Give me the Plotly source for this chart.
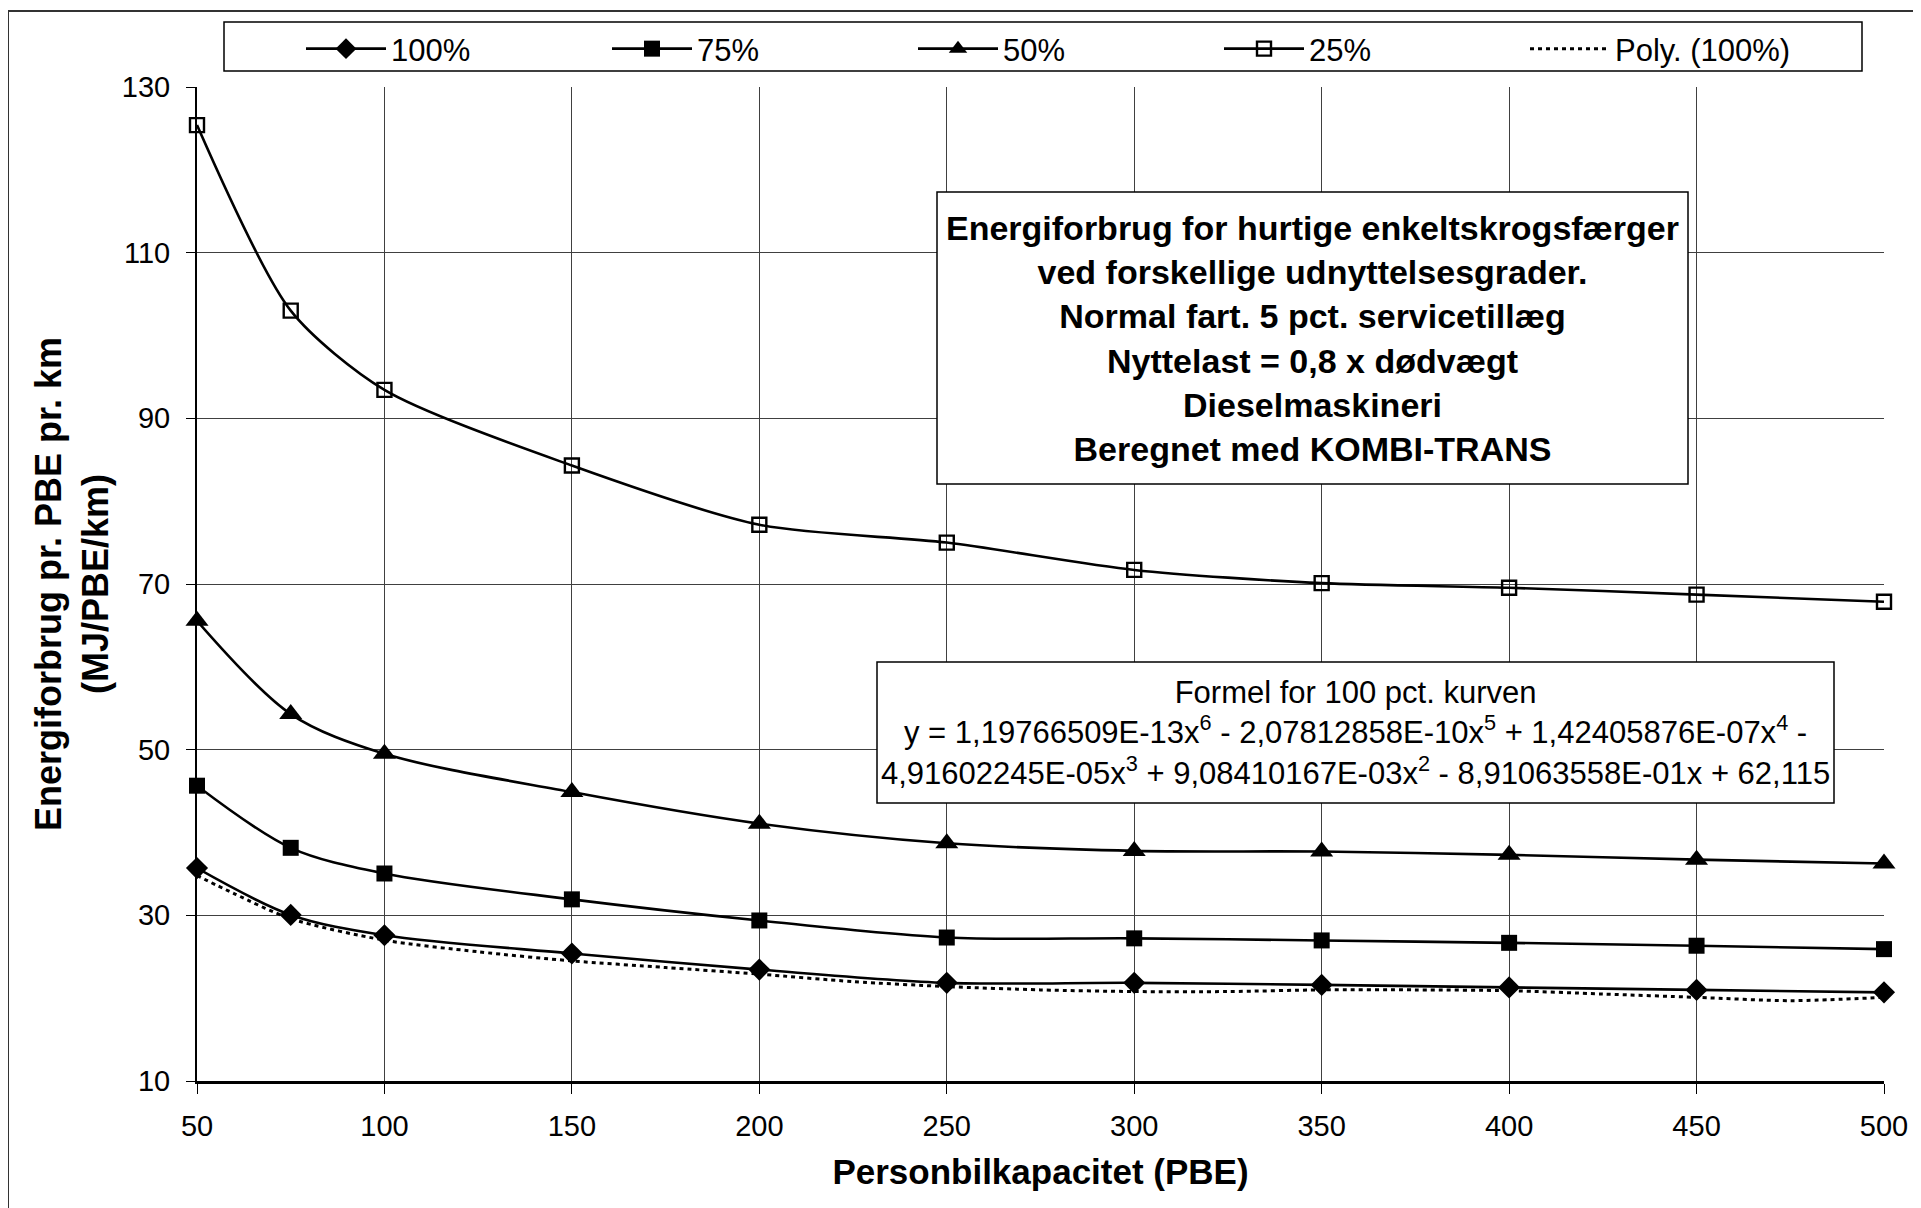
import plotly.graph_objects as go

# ---------------- data ----------------
x_pbe = [50, 75, 100, 150, 200, 250, 300, 350, 400, 450, 500]
y_100 = [35.7, 30.05, 27.6, 25.4, 23.45, 21.85, 21.85, 21.6, 21.3, 21.0, 20.7]
y_75 = [45.65, 38.15, 35.05, 31.93, 29.38, 27.32, 27.22, 26.97, 26.68, 26.33, 25.92]
y_50 = [65.55, 54.3, 49.5, 44.88, 41.07, 38.7, 37.78, 37.7, 37.3, 36.72, 36.25]
y_25 = [125.4, 103.0, 93.43, 84.3, 77.15, 75.0, 71.7, 70.1, 69.55, 68.72, 67.85]

poly_x = [50, 60, 75, 100, 125, 150, 175, 200, 225, 250, 275, 300, 325, 350,
          375, 400, 425, 450, 475, 500]
poly_y = [34.8, 32.6, 29.6, 27.0, 25.6, 24.5, 23.7, 22.9, 22.0, 21.4, 21.0,
          20.8, 20.8, 21.0, 21.0, 20.9, 20.5, 20.1, 19.7, 20.1]

series_names = ["100%", "75%", "50%", "25%"]
trend_name = "Poly. (100%)"
x_ticks = [50, 100, 150, 200, 250, 300, 350, 400, 450, 500]
y_ticks = [10, 30, 50, 70, 90, 110, 130]

x_title = "Personbilkapacitet (PBE)"
y_title = "Energiforbrug pr. PBE pr. km<br>(MJ/PBE/km)"
info_lines = [
    "Energiforbrug for hurtige enkeltskrogsfærger",
    "ved forskellige udnyttelsesgrader.",
    "Normal fart. 5 pct. servicetillæg",
    "Nyttelast = 0,8 x dødvægt",
    "Dieselmaskineri",
    "Beregnet med KOMBI-TRANS",
]
formula_lines = [
    "Formel for 100 pct. kurven",
    "y = 1,19766509E-13x<sup>6</sup> - 2,07812858E-10x<sup>5</sup> + 1,42405876E-07x<sup>4</sup> -",
    "4,91602245E-05x<sup>3</sup> + 9,08410167E-03x<sup>2</sup> - 8,91063558E-01x + 62,115",
]

# ---------------- layout geometry ----------------
# The page body has an 8px margin, so the figure is drawn 8px in from the
# window's top-left corner; page coordinates below are converted accordingly.
OFF = 8
W, H = 1921 - OFF, 1208 - OFF
PL, PR, PT, PB = 197 - OFF, 1884 - OFF, 87 - OFF, 1081 - OFF   # plot area (figure px)
FONT = "Liberation Sans, Arial, sans-serif"


def px_x(page_px):
    return (page_px - OFF - PL) / (PR - PL)


def px_y(page_px):
    return (PB - (page_px - OFF)) / (PB - PT)


fig = go.Figure()

styles = [
    dict(symbol="diamond", size=17, color="black"),
    dict(symbol="square", size=16, color="black"),
    dict(symbol="triangle-up", size=20, color="black"),
    dict(symbol="square-open", size=14, color="black", line=dict(width=2.4, color="black")),
]
smooth = [0.9, 0.9, 0.9, 0.75]
for name, ys, mk, sm in zip(series_names, [y_100, y_75, y_50, y_25], styles, smooth):
    fig.add_trace(go.Scatter(
        x=x_pbe, y=ys, name=name, mode="lines+markers", cliponaxis=False,
        line=dict(color="black", width=2.6, shape="spline", smoothing=sm),
        marker=mk,
    ))

fig.add_trace(go.Scatter(
    x=poly_x, y=poly_y, name=trend_name, mode="lines", cliponaxis=False,
    line=dict(color="black", width=3, dash="4px,4px", shape="spline", smoothing=0.8),
))

shapes = [
    # outer chart frame
    dict(type="rect", xref="paper", yref="paper",
         x0=px_x(8), x1=px_x(1940), y0=px_y(1230), y1=px_y(11),
         line=dict(color="#333333", width=2), fillcolor="rgba(0,0,0,0)", layer="above"),
    # legend frame
    dict(type="rect", xref="paper", yref="paper",
         x0=px_x(224), x1=px_x(1862), y0=px_y(71), y1=px_y(22),
         line=dict(color="black", width=1.5), fillcolor="white", layer="below"),
    # info box
    dict(type="rect", xref="paper", yref="paper",
         x0=px_x(937), x1=px_x(1688), y0=px_y(484), y1=px_y(192),
         line=dict(color="black", width=1.5), fillcolor="white", layer="above"),
    # formula box
    dict(type="rect", xref="paper", yref="paper",
         x0=px_x(877), x1=px_x(1834), y0=px_y(803), y1=px_y(662),
         line=dict(color="black", width=1.5), fillcolor="white", layer="above"),
]

annotations = [
    dict(xref="paper", yref="paper", x=px_x((937 + 1688) / 2), y=px_y((192 + 484) / 2),
         text="<br>".join(f"<b>{t}</b>" for t in info_lines), showarrow=False,
         align="center", xanchor="center", yanchor="middle",
         font=dict(family=FONT, size=34, color="black")),
    dict(xref="paper", yref="paper", x=px_x((877 + 1834) / 2), y=px_y((662 + 803) / 2),
         text="<br>".join(formula_lines), showarrow=False,
         align="center", xanchor="center", yanchor="middle",
         font=dict(family=FONT, size=31, color="black")),
]

fig.update_layout(
    width=W, height=H,
    margin=dict(l=PL, r=W - PR, t=PT, b=H - PB, autoexpand=False),
    paper_bgcolor="white", plot_bgcolor="white",
    font=dict(family=FONT, color="black"),
    showlegend=True,
    legend=dict(orientation="h", xref="container", yref="container",
                x=(301 - OFF) / W, xanchor="left", y=1 - (49 - OFF) / H, yanchor="middle",
                font=dict(family=FONT, size=31, color="black"),
                itemwidth=80, entrywidth=211, bgcolor="rgba(0,0,0,0)", borderwidth=0,
                traceorder="normal"),
    shapes=shapes,
    annotations=annotations,
)

fig.update_xaxes(
    range=[50, 500], tickvals=x_ticks, ticktext=[str(v) for v in x_ticks],
    showgrid=True, gridcolor="#404040", gridwidth=1, zeroline=False,
    showline=True, linecolor="black", linewidth=2.5, automargin=False,
    ticks="outside", ticklen=10, tickcolor="black", tickwidth=1,
    tickfont=dict(family=FONT, size=29, color="black"),
    ticklabelstandoff=7,
    title=dict(text=f"<b>{x_title}</b>", font=dict(family=FONT, size=35, color="black"), standoff=19),
)
fig.update_yaxes(
    range=[10, 130], tickvals=y_ticks, ticktext=[str(v) for v in y_ticks],
    showgrid=True, gridcolor="#404040", gridwidth=1, zeroline=False,
    showline=True, linecolor="black", linewidth=2, automargin=False,
    ticks="outside", ticklen=9, tickcolor="black", tickwidth=1,
    tickfont=dict(family=FONT, size=29, color="black"),
    ticklabelstandoff=10,
    title=dict(text=f"<b>{y_title}</b>", font=dict(family=FONT, size=36, color="black"), standoff=2),
)

fig.write_html("out.html")
